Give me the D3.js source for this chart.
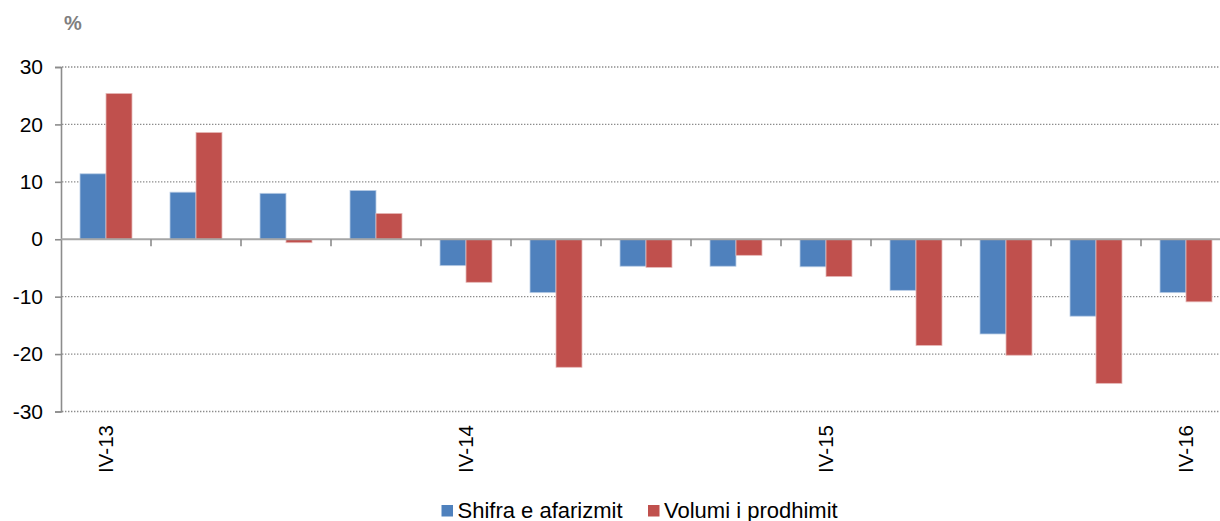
<!DOCTYPE html>
<html>
<head>
<meta charset="utf-8">
<script src="https://cdn.jsdelivr.net/npm/d3@7"></script>
<style>
  body { margin: 0; background: #fff; }
  svg { display: block; font-family: "Liberation Sans", Arial, sans-serif; }
</style>
</head>
<body>
<script>
// quarters, one bar pair each
const quarters = ['IV-13','I-14','II-14','III-14','IV-14','I-15','II-15','III-15','IV-15','I-16','II-16','III-16','IV-16'];
const shownLabels = ['IV-13','IV-14','IV-15','IV-16'];
const seriesNames = ['Shifra e afarizmit', 'Volumi i prodhimit'];
const shifra = [11.4, 8.2, 8.0, 8.5, -4.6, -9.3, -4.7, -4.7, -4.8, -8.9, -16.5, -13.4, -9.3];
const volumi = [25.4, 18.6, -0.6, 4.5, -7.5, -22.3, -4.9, -2.8, -6.5, -18.5, -20.2, -25.1, -10.9];
const yTicks = [-30, -20, -10, 0, 10, 20, 30];
const colors = ['#4f81bd', '#c0504d'];

const W = 1220, H = 521;
const svg = d3.select('body').append('svg').attr('width', W).attr('height', H);

const x = d3.scaleBand().domain(quarters).range([61, 1231])
  .paddingInner(38 / 90).paddingOuter(19 / 90);
const step = x.step();
const xs = d3.scaleBand().domain(seriesNames).range([0, x.bandwidth()]);
const y = d3.scaleLinear().domain([-30, 30]).range([411.5, 67]);

// gridlines
svg.append('g').selectAll('line').data(yTicks.filter(d => d !== 0)).enter().append('line')
  .attr('x1', 62).attr('x2', W)
  .attr('y1', d => y(d)).attr('y2', d => y(d))
  .attr('stroke', '#8c8c8c').attr('stroke-width', 1.3)
  .attr('stroke-dasharray', '1.4,1.6');

// bars
const rows = quarters.map((q, i) => ({ q, vals: [shifra[i], volumi[i]] }));
svg.append('g').selectAll('g').data(rows).enter().append('g')
  .attr('transform', d => `translate(${x(d.q)},0)`)
  .selectAll('rect').data(d => d.vals.map((v, k) => ({ v, k }))).enter().append('rect')
  .attr('x', d => xs(seriesNames[d.k]))
  .attr('width', xs.bandwidth())
  .attr('y', d => y(Math.max(0, d.v)))
  .attr('height', d => Math.abs(y(d.v) - y(0)))
  .attr('fill', d => colors[d.k])
  .attr('stroke', d => d.k === 0 ? '#b9cde5' : '#e6b9b8')
  .attr('stroke-width', 0.8);

// y axis (plain hyphen for negatives, like the original)
const yAxis = svg.append('g').attr('transform', 'translate(61,0)')
  .call(d3.axisLeft(y).tickValues(yTicks).tickFormat(d => String(d)).tickSize(6).tickPadding(12));
yAxis.select('.domain').attr('stroke', '#8c8c8c').attr('stroke-width', 1.6);
yAxis.selectAll('.tick line').attr('stroke', '#8c8c8c').attr('stroke-width', 1.6);
yAxis.selectAll('.tick text').attr('font-size', 21).attr('fill', '#000')
  .attr('font-family', '"Liberation Sans", Arial, sans-serif');

// x axis along zero
const xAxis = svg.append('g').attr('transform', `translate(0,${y(0)})`);
xAxis.append('line').attr('x1', 61).attr('x2', W).attr('y1', 0).attr('y2', 0)
  .attr('stroke', '#a6a6a6').attr('stroke-width', 1.8);
xAxis.selectAll('line.tk').data(quarters.slice(1)).enter().append('line')
  .attr('class', 'tk')
  .attr('x1', d => x(d) - (step - x.bandwidth()) / 2)
  .attr('x2', d => x(d) - (step - x.bandwidth()) / 2)
  .attr('y1', 0).attr('y2', 7)
  .attr('stroke', '#8c8c8c').attr('stroke-width', 1.6);

// category labels, rotated
svg.append('g').selectAll('text').data(shownLabels).enter().append('text')
  .attr('transform', d => `translate(${x(d) + x.bandwidth() / 2 + 7},425) rotate(-90)`)
  .attr('text-anchor', 'end')
  .attr('font-size', 20.5)
  .attr('fill', '#000')
  .text(d => d);

// unit
svg.append('text').attr('x', 64).attr('y', 30)
  .attr('font-size', 20).attr('font-weight', 'bold').attr('fill', '#7f7f7f')
  .text('%');

// legend
const legendX = [441.5, 648];
const lg = svg.append('g').selectAll('g').data(seriesNames).enter().append('g')
  .attr('transform', (d, i) => `translate(${legendX[i]},0)`);
lg.append('rect').attr('x', 0).attr('y', 505).attr('width', 11.5).attr('height', 11.5)
  .attr('fill', (d, i) => colors[i]);
lg.append('text').attr('x', 16).attr('y', 517.5)
  .attr('font-size', 22).attr('fill', '#000')
  .text(d => d);
</script>
</body>
</html>
